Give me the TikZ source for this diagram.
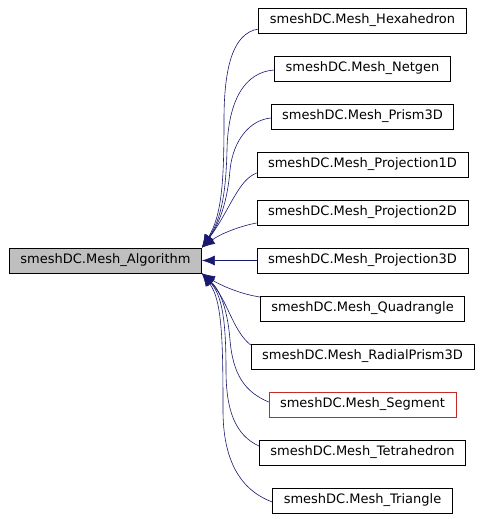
\documentclass[tikz,border=0pt]{standalone}
\usepackage{fontspec}
\setmainfont{DejaVu Sans}
\usepackage{tikz}
\usetikzlibrary{arrows.meta}
\definecolor{edgeblue}{RGB}{25,25,112}
\definecolor{undoc}{RGB}{200,40,40}
\definecolor{basegrey}{RGB}{191,191,191}

\tikzset{
  cls/.style={draw=black, line width=0.8pt, fill=white, inner xsep=11pt,
    inner ysep=0pt, minimum height=25pt, font=\fontsize{13}{15}\selectfont},
  derived/.style={draw=edgeblue, line width=0.6pt,
    -{Latex[length=13pt,width=10pt]}}
}

\begin{document}
\begin{tikzpicture}[x=1pt,y=-1pt]
  \useasboundingbox (0,0) rectangle (482,519);

  % base class
  \node[cls, fill=basegrey] (alg) at (105.5,260.5) {smeshDC.Mesh\_Algorithm};

  % derived classes
  \node[cls] (hexa) at (362.5,20.5) {smeshDC.Mesh\_Hexahedron};
  \node[cls] (netgen) at (362.5,68.5) {smeshDC.Mesh\_Netgen};
  \node[cls] (prism) at (362.5,116.5) {smeshDC.Mesh\_Prism3D};
  \node[cls] (proja) at (362.5,164.5) {smeshDC.Mesh\_Projection1D};
  \node[cls] (projb) at (362.5,212.5) {smeshDC.Mesh\_Projection2D};
  \node[cls] (projc) at (362.5,260.5) {smeshDC.Mesh\_Projection3D};
  \node[cls] (quad) at (362.5,308.5) {smeshDC.Mesh\_Quadrangle};
  \node[cls] (radial) at (362.5,356.5) {smeshDC.Mesh\_RadialPrism3D};
  \node[cls, draw=undoc] (segment) at (362.5,404.5) {smeshDC.Mesh\_Segment};
  \node[cls] (tetra) at (362.5,452.5) {smeshDC.Mesh\_Tetrahedron};
  \node[cls] (tria) at (362.5,500.5) {smeshDC.Mesh\_Triangle};

  % edges into the upper corner
  \draw[derived] ([yshift=-8.5pt]hexa.west) .. controls (232,33) and (224,70) .. (224,120)
    .. controls (224,180) and (222,215) .. (alg.north east);
  \draw[derived] ([yshift=-1.5pt]netgen.west) .. controls (245,72) and (228,100) .. (227,150)
    .. controls (226,190) and (222,218) .. (alg.north east);
  \draw[derived] ([yshift=-1.5pt]prism.west) .. controls (250,120) and (233,140) .. (230,170)
    .. controls (228,195) and (222,220) .. (alg.north east);
  \draw[derived] ([yshift=-8.5pt]proja.west) .. controls (238,180) and (230,210) .. (alg.north east);
  \draw[derived] ([yshift=-10.5pt]projb.west) .. controls (240,226) and (220,234) .. (alg.north east);

  % straight edge
  \draw[derived] (projc.west) -- (alg.east);

  % edges into the lower corner
  \draw[derived] ([yshift=11.5pt]quad.west) .. controls (240,294) and (220,285) .. (alg.south east);
  \draw[derived] ([yshift=11.5pt]radial.west) .. controls (232,330) and (228,300) .. (alg.south east);
  \draw[derived] ([yshift=2.5pt]segment.west) .. controls (245,392) and (233,375) .. (230,340)
    .. controls (228,315) and (222,292) .. (alg.south east);
  \draw[derived] ([yshift=6.5pt]tetra.west) .. controls (235,435) and (226,410) .. (226,370)
    .. controls (226,320) and (222,295) .. (alg.south east);
  \draw[derived] ([yshift=-1.5pt]tria.west) .. controls (240,490) and (223,460) .. (223,410)
    .. controls (223,340) and (222,300) .. (alg.south east);

\end{tikzpicture}
\end{document}
